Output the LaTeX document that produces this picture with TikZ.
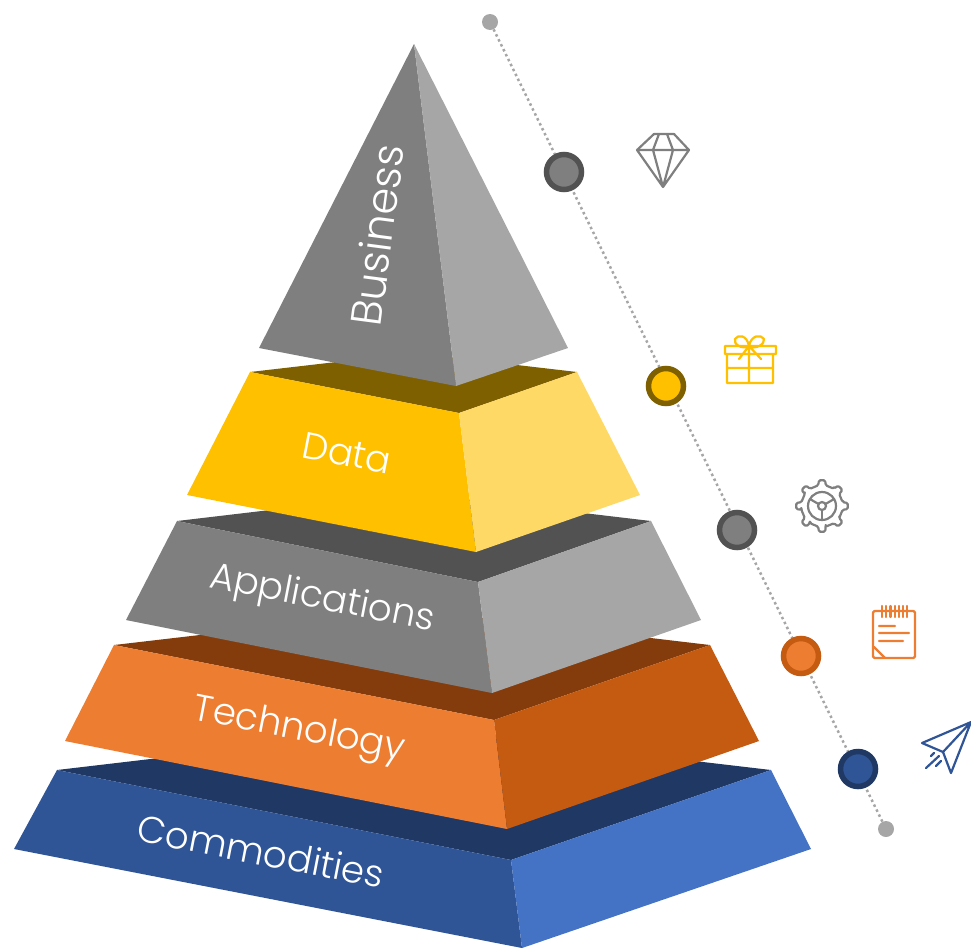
\documentclass[tikz,border=0pt]{standalone}
\usepackage{fontspec}
\setmainfont{Poppins}[UprightFont=* Light]
\definecolor{cblue}{HTML}{2F5597}
\definecolor{cbluel}{HTML}{4472C4}
\definecolor{cblued}{HTML}{203864}
\definecolor{corange}{HTML}{ED7D31}
\definecolor{corangem}{HTML}{C55A11}
\definecolor{coranged}{HTML}{843C0C}
\definecolor{cgrey}{HTML}{7F7F7F}
\definecolor{cgreyl}{HTML}{A6A6A6}
\definecolor{cgreyd}{HTML}{525252}
\definecolor{cyellow}{HTML}{FFC000}
\definecolor{cyellowl}{HTML}{FFD966}
\definecolor{cyellowd}{HTML}{7F6000}
\tikzset{
  tierlabel/.style={text=white,inner sep=0pt,font=\fontsize{37.3}{37.3}\selectfont},
  marker/.style={circle,minimum size=35pt,inner sep=0pt,line width=5.5pt},
  enddot/.style={circle,fill=cgreyl,minimum size=16pt,inner sep=0pt},
  icon/.style={line width=2.2pt,line join=round,line cap=round}
}
\begin{document}
\begin{tikzpicture}[x=1pt,y=-1pt]
  \useasboundingbox (0,0) rectangle (971,948);

  %dotted line
  \node[enddot] (dottop) at (490,22) {};
  \node[enddot] (dotbot) at (886,829) {};
  \draw[cgreyl,line width=2.5pt,dash pattern=on 2.5pt off 3pt] (dottop) -- (dotbot);

  %tiers, bottom first
  \foreach \la/\lb/\ra/\rb/\fa/\fb/\lc/\ld/\rc/\rd/\fc/\fd/\backy/\cfront/\cside/\ctop in {
      57/770/771/770/511/860/14/849/811/849/522/948/728/cblue/cbluel/cblued,
      114/645/710/645/494/720/65/741/759/741/507/829/610/corange/corangem/coranged,
      177/521/651/521/478/582/126/620/701/620/492/693/493/cgrey/cgreyl/cgreyd,
      250/372/577/372/459/413/187/495/640/495/476/552/353/cyellow/cyellowl/cyellowd}{
    \fill[\ctop] (\la,\lb) -- (414,\backy) -- (\ra,\rb) -- (\fa,\fb) -- cycle;
    \fill[\cfront] (\la,\lb) -- (\fa,\fb) -- (\fc,\fd) -- (\lc,\ld) -- cycle;
    \fill[\cside] (\ra,\rb) -- (\fa,\fb) -- (\fc,\fd) -- (\rc,\rd) -- cycle;
  }

  %top
  \fill[cgrey] (414,44) -- (456,386) -- (259,348) -- cycle;
  \fill[cgreyl] (414,44) -- (456,386) -- (568,348) -- cycle;

  %labels
  \node[tierlabel,rotate=82.5,font=\fontsize{43}{43}\selectfont] (business) at (377,235) {Business};
  \node[tierlabel,rotate=-11] (data) at (347,453) {Data};
  \node[tierlabel,rotate=-11] (applications) at (322,600) {Applications};
  \node[tierlabel,rotate=-11] (technology) at (299,731) {Technology};
  \node[tierlabel,rotate=-11] (commodities) at (261,851) {Commodities};

  %markers
  \foreach \x/\y/\cfill/\cline/\name in {
      564/172/cgrey/cgreyd/m1, 666/386/cyellow/cyellowd/m2, 737/530/cgrey/cgreyd/m3,
      801/656/corange/corangem/m4, 858/769/cblue/cblued/m5}{
    \node[marker,fill=\cfill,draw=\cline] (\name) at (\x,\y) {};
  }

  %diamond
  \draw[icon,cgrey] (654,134) -- (674,134) -- (689,150) -- (663,187) -- (637,150) -- cycle
    (637,150) -- (689,150) (653,150) -- (663,187) -- (673,150)
    (653,150) -- (659,134) (673,150) -- (667,134);

  %gift
  \draw[icon,cyellow] (725,346) rectangle (776,354) (727,354) rectangle (773,383)
    (749,346) -- (749,383) (727,368) -- (773,368)
    (739,359) -- (749,346) -- (761,359)
    (749,346) .. controls (742,350) and (733,344) .. (735,339) .. controls (738,334) and (747,335) .. (749,346)
    (749,346) .. controls (756,350) and (765,344) .. (764,339) .. controls (761,334) and (751,335) .. (749,346);

  %gear
  \begin{scope}[shift={(822,506)}]
    \draw[icon,cgrey,rounded corners=1.5pt] (-10:21)
      \foreach \a in {0,45,...,315}{
        -- (\a-10:21) -- (\a-7:26) -- (\a+7:26) -- (\a+10:21) -- (\a+35:21)
      } -- cycle;
    \draw[icon,cgrey] (0,0) circle (14) (0,0) circle (4);
    \foreach \a in {90,210,330}{
      \draw[icon,cgrey] (\a:4) -- (\a:14);
    }
  \end{scope}

  %notepad
  \draw[icon,corange,rounded corners=1.5pt] (873,611) rectangle (915,658);
  \draw[icon,corange] (879,626) -- (895,626) (879,633) -- (909,633) (879,641) -- (903,641)
    (874,647) -- (885,658);
  \foreach \x in {882,886.2,...,908}{
    \draw[icon,corange] (\x,606) -- (\x,617);
  }

  %plane
  \draw[icon,cblue] (971,722) -- (922,743) -- (943,752) -- (951,773) -- cycle (943,752) -- (971,722)
    (926,768) -- (939,756) (931,756) -- (934,753) (936,766) -- (941,761);
\end{tikzpicture}
\end{document}
